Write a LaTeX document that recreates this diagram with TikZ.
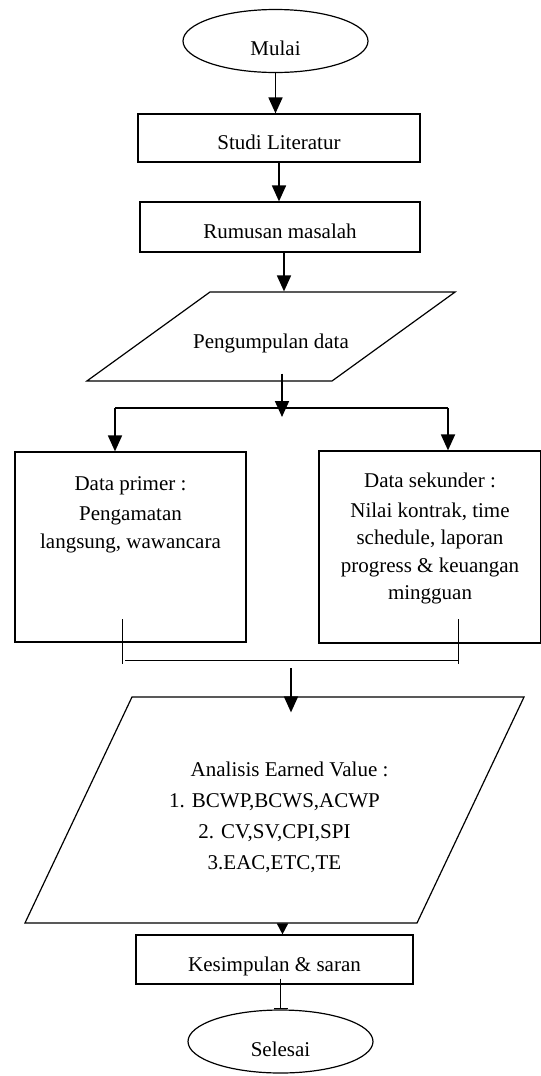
\documentclass[tikz,border=0pt]{standalone}
\usepackage{fontspec}
\setmainfont{Liberation Serif}
\usetikzlibrary{shapes.geometric,arrows.meta,positioning}

\begin{document}
\begin{tikzpicture}
[
x=1bp,y=-1bp,
font=\fontsize{21bp}{27.5bp}\selectfont,
terminal/.style={draw,ellipse,line width=1.2bp,minimum width=185bp,minimum height=63bp,inner sep=0pt,text height=29bp,text depth=0pt},
proses/.style 2 args={draw,rectangle,line width=1.2bp,minimum width=#1,minimum height=#2,inner sep=0pt,text height=23bp,text depth=0pt},
io/.style={draw,trapezium,trapezium left angle=#1,trapezium right angle=180-#1,line width=1.2bp,inner xsep=0pt,text height=23bp,text depth=0pt},
teks/.style={align=center,inner sep=0pt},
arr/.style={line width=1.8bp,-{Triangle[width=14bp,length=16bp]}},
garis/.style={line width=1bp},
]
\useasboundingbox[fill=white] (0,0) rectangle (541,1076);

%Place the nodes
\node[terminal] (mulai) at (275.5,41) {Mulai};
\node[proses={282bp}{48bp}] (studi) at (279,138) {Studi Literatur};
\node[proses={280bp}{50bp}] (rumusan) at (280,227) {Rumusan masalah};
\node[io=35.87,inner ysep=33bp] (kumpul) at (271,336.5) {\makebox[122bp]{Pengumpulan data}};

\node[proses={231bp}{190bp}] (primer) at (130.5,547) {};
\node[teks,below=25bp of primer.north] (tprimer) {Data primer :\\[2.5bp] Pengamatan\\ langsung, wawancara};
\node[proses={222bp}{192bp}] (sekunder) at (430,547) {};
\node[teks,below=22bp of sekunder.north] (tsekunder) {Data sekunder :\\[2.5bp] Nilai kontrak, time\\ schedule, laporan\\ progress \& keuangan\\ mingguan};

\node[io=64.66,inner ysep=101.5bp] (analisis) at (274.5,810) {\makebox[285bp]{}};
\node[teks,font=\fontsize{21bp}{31bp}\selectfont,below=65bp of analisis.north] (tanalisis) {\hspace*{30bp}Analisis Earned Value :\\ 1. BCWP,BCWS,ACWP\\ 2. CV,SV,CPI,SPI\\ 3.EAC,ETC,TE};

\node[proses={277bp}{49bp}] (simpul) at (274.5,959.5) {Kesimpulan \& saran};
\node[terminal] (selesai) at (280.5,1041.5) {Selesai};

\coordinate (pecah) at (282,408);
\coordinate (kiri) at (115,408);
\coordinate (kanan) at (448,408);
\coordinate (stubkiri) at (122,660);
\coordinate (stubkanan) at (458,660);
\coordinate (gabung) at (291,660);

%Draw the connections
\draw[arr] (mulai.south) -- (mulai.south |- studi.north);
\draw[arr] (studi.south) -- (studi.south |- rumusan.north);
\draw[arr] ([xshift=4bp]rumusan.south) -- ([xshift=4bp]rumusan.south |- kumpul.north);

\draw[arr] ([yshift=8bp]kumpul.south -| pecah) -- ([yshift=-9bp]pecah);
\draw[garis,line width=1.2bp] (kiri) -- (kanan);
\draw[arr] (kiri) -- (kiri |- primer.north);
\draw[arr] (kanan) -- (kanan |- sekunder.north);

\draw[garis] ([yshift=41bp]stubkiri) -- ([yshift=-4bp]stubkiri);
\draw[garis] ([yshift=41bp]stubkanan) -- ([yshift=-4bp]stubkanan);
\draw[garis] ([xshift=3bp]stubkiri) -- (stubkanan);
\draw[arr] ([yshift=-8bp]gabung) -- ([yshift=-16bp]gabung |- analisis.north);

\draw[arr,-{Triangle[width=11bp,length=11bp]}] ([xshift=8bp]simpul.north |- analisis.south) -- ([xshift=8bp]simpul.north);
\draw[line width=1.8bp,-{Bar[width=14bp,line width=1.5bp]}] ([yshift=6bp]simpul.south -| selesai.north) -- (selesai.north);
\end{tikzpicture}
\end{document}
